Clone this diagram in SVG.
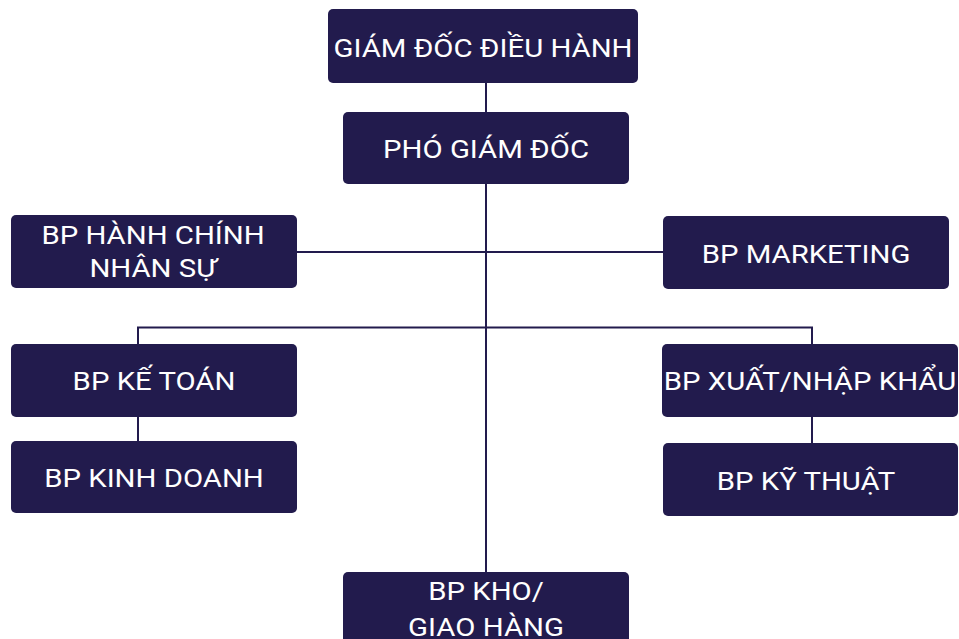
<svg xmlns="http://www.w3.org/2000/svg" width="959" height="639" viewBox="0 0 959 639">
<style>
.n{fill:#221b4d}
.t{fill:#ffffff;font-family:Roboto,"Noto Sans","DejaVu Sans",sans-serif;font-size:25.5px;text-anchor:middle}
.c{stroke:#221b4d;stroke-width:2;fill:none}
</style>
<rect width="959" height="639" fill="#ffffff"/>
<g id="connectors">
<path class="c" d="M486 83V572"/>
<path class="c" d="M297 252H663"/>
<path class="c" d="M138 344V327.5H812V344"/>
<path class="c" d="M138 417V441"/>
<path class="c" d="M812 417V443"/>
</g>
<g id="gddh"><rect class="n" x="328" y="9" width="310" height="74" rx="5"/><text class="t" transform="translate(483 57) scale(1.15 1)">GIÁM ĐỐC ĐIỀU HÀNH</text></g>
<g id="pgd"><rect class="n" x="343" y="112" width="286" height="72" rx="5"/><text class="t" transform="translate(486 158) scale(1.15 1)">PHÓ GIÁM ĐỐC</text></g>
<g id="hcns"><rect class="n" x="11" y="215" width="286" height="73" rx="5"/><text class="t" transform="translate(153 243.5) scale(1.15 1)">BP HÀNH CHÍNH</text><text class="t" transform="translate(153 277) scale(1.15 1)">NHÂN SỰ</text></g>
<g id="marketing"><rect class="n" x="663" y="216" width="286" height="73" rx="5"/><text class="t" transform="translate(806 263) scale(1.15 1)">BP MARKETING</text></g>
<g id="ketoan"><rect class="n" x="11" y="344" width="286" height="73" rx="5"/><text class="t" transform="translate(154 390) scale(1.15 1)">BP KẾ TOÁN</text></g>
<g id="kinhdoanh"><rect class="n" x="11" y="441" width="286" height="72" rx="5"/><text class="t" transform="translate(154 487) scale(1.15 1)">BP KINH DOANH</text></g>
<g id="xnk"><rect class="n" x="662" y="344" width="296" height="73" rx="5"/><text class="t" transform="translate(810 390) scale(1.15 1)">BP XUẤT/NHẬP KHẨU</text></g>
<g id="kythuat"><rect class="n" x="663" y="443" width="295" height="73" rx="5"/><text class="t" transform="translate(806 490) scale(1.15 1)">BP KỸ THUẬT</text></g>
<g id="kho"><rect class="n" x="343" y="572" width="286" height="90" rx="5"/><text class="t" transform="translate(486 600) scale(1.15 1)">BP KHO/</text><text class="t" transform="translate(486 636) scale(1.15 1)">GIAO HÀNG</text></g>
</svg>
